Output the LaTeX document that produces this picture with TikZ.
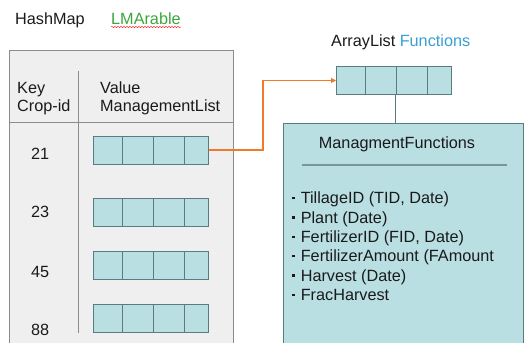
\documentclass[tikz,border=0pt]{standalone}
\usepackage{fontspec}
\setmainfont{Liberation Sans}
\usetikzlibrary{arrows.meta,decorations.pathmorphing}

\definecolor{panelgray}{HTML}{EFEFEF}
\definecolor{panelline}{HTML}{8C8C8C}
\definecolor{cellfill}{HTML}{B9DFE3}
\definecolor{cellline}{HTML}{5A7C80}
\definecolor{linkorange}{HTML}{F07A2A}
\definecolor{namegreen}{HTML}{3CA63C}
\definecolor{nameblue}{HTML}{38A0D2}
\definecolor{txt}{HTML}{1A1A1A}

\tikzset{
  lbl/.style={font=\fontsize{16.3}{18}\selectfont, text=txt, inner sep=0pt},
  cellrow/.style={draw=cellline, fill=cellfill, line width=0.9pt},
  divider/.style={draw=cellline, line width=0.9pt},
}

% a row of four cells: #1 = name, #2 = left x, #3 = top y
\newcommand{\cellrowat}[3]{%
  \node[cellrow, minimum width=115bp, minimum height=28bp, inner sep=0pt,
        anchor=north west] (#1) at (#2,#3) {};
  \draw[divider] ([xshift=29bp]#1.north west) -- ([xshift=29bp]#1.south west);
  \draw[divider] ([xshift=60bp]#1.north west) -- ([xshift=60bp]#1.south west);
  \draw[divider] ([xshift=91bp]#1.north west) -- ([xshift=91bp]#1.south west);
}
% small square bullet for the method list
\newcommand{\itemdot}{\raisebox{4.5bp}{\rule{2.6bp}{2.6bp}}\hspace{6bp}}

\begin{document}
\begin{tikzpicture}[x=1bp,y=-1bp]
\useasboundingbox (0,0) rectangle (524,342);

% titles
\node[lbl, anchor=base west] (hm) at (15,24) {HashMap};
\node[lbl, anchor=base west, text=namegreen] (lma) at (111,24) {LMArable};
\draw[red!80, line width=0.5pt, decorate,
      decoration={snake, amplitude=0.7bp, segment length=3bp}]
  ([yshift=-3bp]lma.base west) -- ([yshift=-3bp]lma.base east);

\node[lbl, anchor=base west] (al) at (331,46) {ArrayList \textcolor{nameblue}{Functions}};

% hash map panel
\node[draw=panelline, fill=panelgray, line width=1pt, anchor=north west,
      minimum width=224bp, minimum height=300bp, inner sep=0pt] (panel) at (9,50) {};
\coordinate (hl) at (9,122);
\coordinate (hr) at (233,122);
\draw[panelline, line width=0.9pt] (hl) -- (hr);
\coordinate (vt) at (78.5,71);
\coordinate (vb) at (78.5,333);
\draw[panelline, line width=0.9pt] (vt) -- (vb);

\node[lbl, anchor=base west] (key) at (17,93) {Key};
\node[lbl, anchor=base west] (cid) at (17,111) {Crop-id};
\node[lbl, anchor=base west] (val) at (100,93) {Value};
\node[lbl, anchor=base west] (mlist) at (100,111) {ManagementList};

\node[lbl, anchor=base west] (k21) at (31,159) {21};
\node[lbl, anchor=base west] (k23) at (31,217) {23};
\node[lbl, anchor=base west] (k45) at (31,277) {45};
\node[lbl, anchor=base west] (k88) at (31,335) {88};

\cellrowat{r1}{93}{136}
\cellrowat{r2}{93}{198}
\cellrowat{r3}{93}{251}
\cellrowat{r4}{93}{304}

% array list of functions
\cellrowat{arr}{336}{66}

% functions class box
\node[draw=cellline, fill=cellfill, line width=1.2pt, anchor=north west,
      minimum width=240bp, minimum height=240bp, inner sep=0pt] (mf) at (283,123) {};
\draw[cellline, line width=0.9pt] ([xshift=1bp]arr.south) -- ([xshift=1bp]arr.south |- mf.north);

\node[lbl, anchor=base] (mft) at (397,148) {ManagmentFunctions};
\coordinate (rl) at (302,165);
\coordinate (rr) at (507,165);
\draw[cellline!80, line width=1.2pt] (rl) -- (rr);

\node[lbl, anchor=north west, align=left,
      font=\fontsize{16.3}{19.4}\selectfont] (items) at (292,192) {%
  \itemdot TillageID (TID, Date)\\
  \itemdot Plant (Date)\\
  \itemdot FertilizerID (FID, Date)\\
  \itemdot FertilizerAmount (FAmount\\
  \itemdot Harvest (Date)\\
  \itemdot FracHarvest};

% link from the first list to the functions array
\coordinate (bend) at (263,150);
\draw[linkorange, line width=1.6pt, -{Triangle[length=5bp,width=5bp]}]
  (r1.east |- bend) -- (bend) |- (arr.west);
\end{tikzpicture}
\end{document}
